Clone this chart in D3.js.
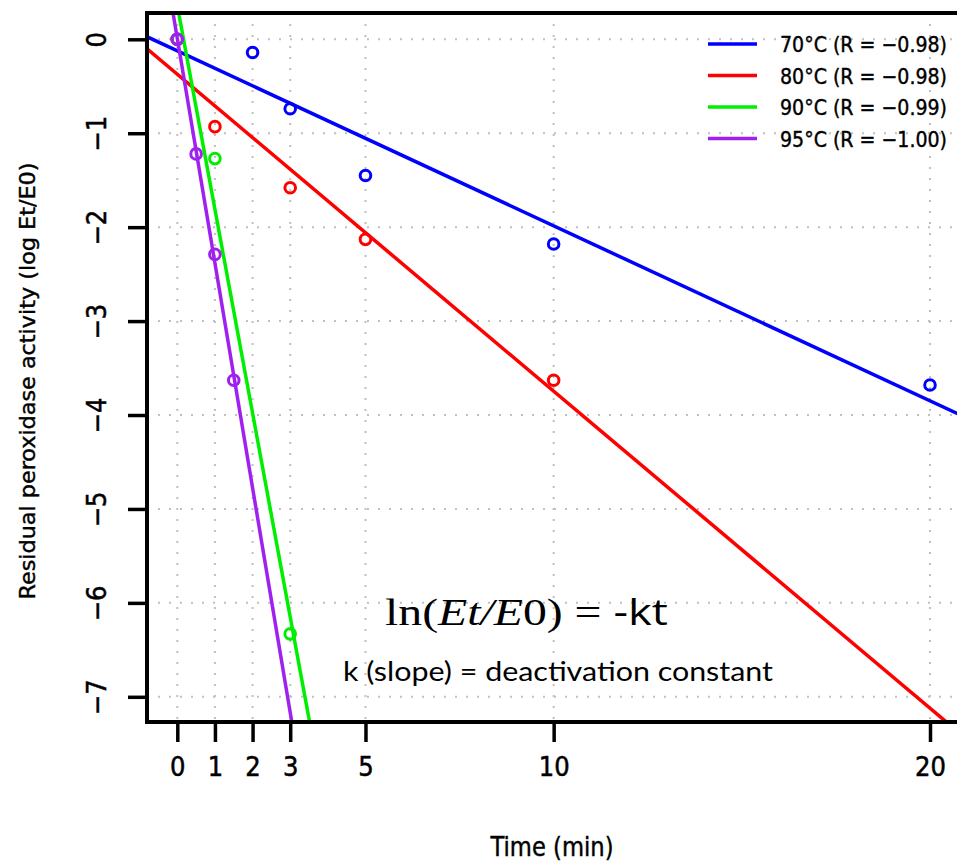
<!DOCTYPE html>
<html>
<head>
<meta charset="utf-8">
<script src="https://cdn.jsdelivr.net/npm/d3@7"></script>
<style>
  html, body { margin: 0; padding: 0; background: #fff; }
  svg { display: block; }
</style>
</head>
<body>
<svg id="chart" width="957" height="861"></svg>
<script>
// ---- data ----
const seriesNames = ["70°C", "80°C", "90°C", "95°C"];
const legendLabels = ["70°C (R = \u22120.98)", "80°C (R = \u22120.98)", "90°C (R = \u22120.99)", "95°C (R = \u22121.00)"];
const seriesColors = ["#0000ff", "#ff0000", "#00ee00", "#a020f0"];
const times70 = [0, 2, 3, 5, 10, 20];
const vals70  = [0, -0.14, -0.74, -1.45, -2.18, -3.68];
const times80 = [0, 1, 3, 5, 10];
const vals80  = [0, -0.93, -1.58, -2.13, -3.63];
const times90 = [0, 1, 3];
const vals90  = [0, -1.27, -6.33];
const times95 = [0, 0.5, 1, 1.5];
const vals95  = [0, -1.22, -2.29, -3.63];
const xTicks = [0, 1, 2, 3, 5, 10, 20];
const yTicks = [0, -1, -2, -3, -4, -5, -6, -7];
const xTitle = "Time (min)";
const yTitle = "Residual peroxidase activity (log Et/E0)";
const noteLine2 = "k (slope) = deactivation constant";

const allTimes = [times70, times80, times90, times95];
const allVals = [vals70, vals80, vals90, vals95];

// ---- layout ----
const svg = d3.select("#chart");
const box = {left: 147, top: 13, right: 962, bottom: 722};
const x = d3.scaleLinear().domain([0, 20]).range([177.3, 930]);
const y = d3.scaleLinear().domain([0, -7]).range([39.3, 696.8]);
const axisFont = '"DejaVu Sans Condensed", "Liberation Sans Narrow", "DejaVu Sans", sans-serif';

svg.append("defs").append("clipPath").attr("id", "clip")
  .append("rect").attr("x", box.left).attr("y", box.top)
  .attr("width", box.right - box.left).attr("height", box.bottom - box.top);

// grid
const grid = svg.append("g").attr("stroke", "#c0c0c0").attr("stroke-width", 2)
  .attr("stroke-dasharray", "2,9").attr("fill", "none");
xTicks.forEach(t => grid.append("line").attr("x1", x(t)).attr("x2", x(t))
  .attr("y1", box.top).attr("y2", box.bottom));
yTicks.forEach(v => grid.append("line").attr("x1", box.left).attr("x2", box.right)
  .attr("y1", y(v)).attr("y2", y(v)));

// series
function fit(ts, vs) {
  const mt = d3.mean(ts), mv = d3.mean(vs);
  let sxy = 0, sxx = 0;
  ts.forEach((t, i) => { sxy += (t - mt) * (vs[i] - mv); sxx += (t - mt) * (t - mt); });
  const b = sxy / sxx;
  return {b: b, a: mv - b * mt};
}
const plot = svg.append("g").attr("clip-path", "url(#clip)");
allTimes.forEach((ts, si) => {
  const col = seriesColors[si];
  const g = plot.append("g");
  g.selectAll("circle").data(ts.map((t, i) => [t, allVals[si][i]])).join("circle")
    .attr("cx", d => x(d[0])).attr("cy", d => y(d[1])).attr("r", 5.3)
    .attr("fill", "none").attr("stroke", col).attr("stroke-width", 3);
  const f = fit(ts, allVals[si]);
  const t0 = x.invert(box.left - 5), t1 = x.invert(box.right + 5);
  g.append("line")
    .attr("x1", x(t0)).attr("y1", y(f.a + f.b * t0))
    .attr("x2", x(t1)).attr("y2", y(f.a + f.b * t1))
    .attr("stroke", col).attr("stroke-width", 3.5);
});

// axes
const xAxis = d3.axisBottom(x).tickValues(xTicks).tickSize(20).tickPadding(15).tickFormat(d3.format("d"));
const gx = svg.append("g").attr("transform", `translate(0,${box.bottom})`).call(xAxis);
gx.select(".domain").remove();
gx.selectAll(".tick line").attr("stroke", "#000").attr("stroke-width", 3.5);
gx.selectAll(".tick text").attr("font-family", axisFont).attr("font-size", 27).attr("fill", "#000")
  .attr("stroke", "#000").attr("stroke-width", 0.5);

const yAxis = d3.axisLeft(y).tickValues(yTicks).tickSize(19).tickPadding(0)
  .tickFormat(d => d === 0 ? "0" : "\u2212" + Math.abs(d));
const gy = svg.append("g").attr("transform", `translate(${box.left},0)`).call(yAxis);
gy.select(".domain").remove();
gy.selectAll(".tick line").attr("stroke", "#000").attr("stroke-width", 3.5);
gy.selectAll(".tick text")
  .attr("x", null).attr("dy", null)
  .attr("transform", "translate(-51,0) rotate(-90)")
  .attr("text-anchor", "middle").attr("dominant-baseline", "central")
  .attr("font-family", axisFont).attr("font-size", 27).attr("fill", "#000")
  .attr("stroke", "#000").attr("stroke-width", 0.5);

// frame (left, top, bottom)
svg.append("path")
  .attr("d", `M${box.right},${box.top}H${box.left}V${box.bottom}H${box.right}`)
  .attr("fill", "none").attr("stroke", "#000").attr("stroke-width", 4);

// titles
svg.append("text").attr("x", 552).attr("y", 856).attr("text-anchor", "middle")
  .attr("font-family", axisFont).attr("font-size", 27).attr("textLength", 123)
  .attr("stroke", "#000").attr("stroke-width", 0.4)
  .attr("lengthAdjust", "spacingAndGlyphs").text(xTitle);
svg.append("text").attr("transform", "translate(35,381) rotate(-90)").attr("text-anchor", "middle")
  .attr("font-family", axisFont).attr("font-size", 22).attr("textLength", 437)
  .attr("stroke", "#000").attr("stroke-width", 0.4)
  .attr("lengthAdjust", "spacingAndGlyphs").text(yTitle);

// legend
const lg = svg.append("g");
legendLabels.forEach((lab, i) => {
  const ly = 44 + i * 31.5;
  lg.append("line").attr("x1", 708).attr("x2", 757).attr("y1", ly).attr("y2", ly)
    .attr("stroke", seriesColors[i]).attr("stroke-width", 3.5);
  lg.append("text").attr("x", 780).attr("y", ly + 8)
    .attr("font-family", axisFont).attr("font-size", 22)
    .attr("stroke", "#000").attr("stroke-width", 0.4)
    .attr("textLength", 167).attr("lengthAdjust", "spacingAndGlyphs").text(lab);
});

// formula annotation
const serif = '"Liberation Serif", "DejaVu Serif", serif';
const ft = svg.append("text").attr("font-size", 38).attr("fill", "#000");
ft.append("tspan").attr("font-family", serif).text("ln(");
ft.append("tspan").attr("font-family", serif).attr("font-style", "italic").text("Et");
ft.append("tspan").attr("font-family", serif).attr("font-style", "italic").text("/E");
ft.append("tspan").attr("font-family", serif).text("0) = ");
ft.append("tspan").attr("font-family", "'Open Sans', Lato, sans-serif").attr("font-size", 36).text("-kt");
const fw = ft.node().getComputedTextLength();
ft.attr("transform", `translate(385,625) scale(${283 / fw},1)`);

svg.append("text").attr("x", 343).attr("y", 681)
  .attr("font-family", "Lato, 'Open Sans', sans-serif").attr("font-size", 27)
  .attr("textLength", 430).attr("lengthAdjust", "spacingAndGlyphs").text(noteLine2);
</script>
</body>
</html>
